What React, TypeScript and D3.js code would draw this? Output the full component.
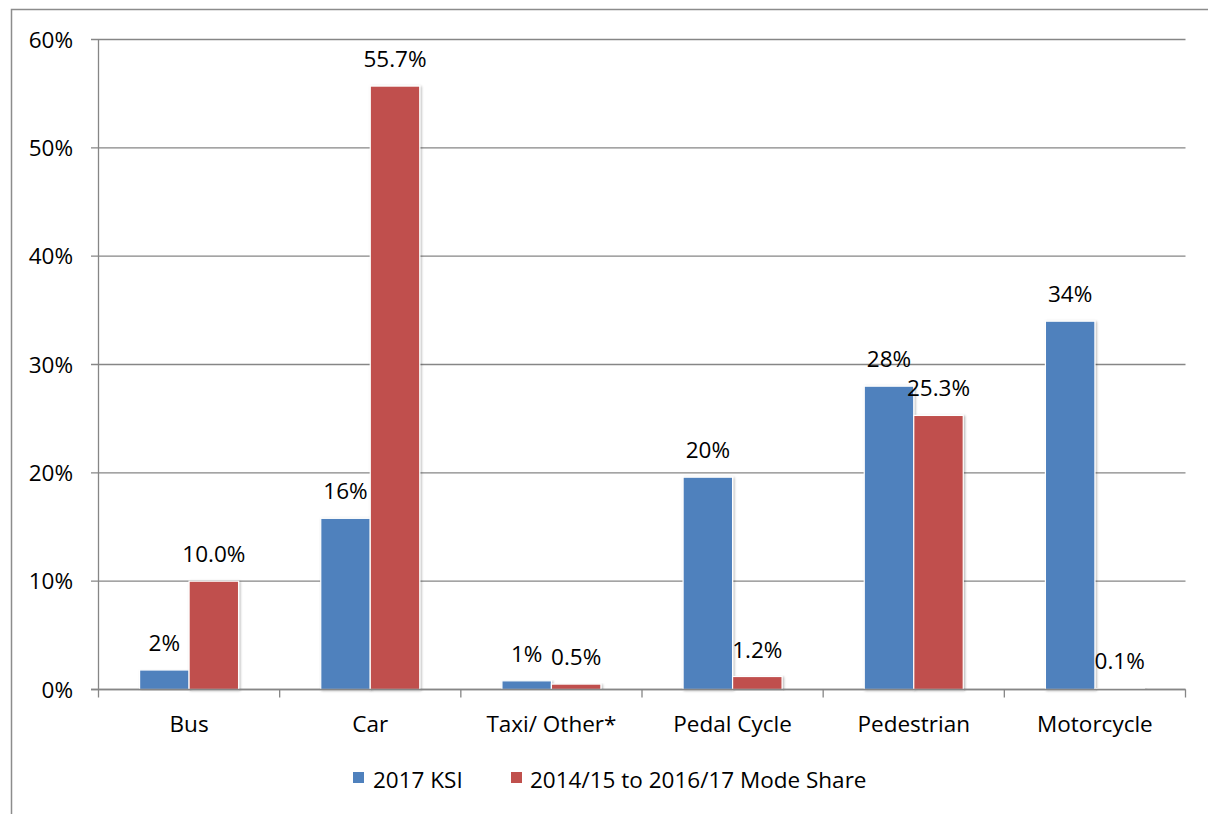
import React from "react";
import * as d3 from "d3";

const categories = ["Bus", "Car", "Taxi/ Other*", "Pedal Cycle", "Pedestrian", "Motorcycle"];
const seriesNames = ["2017 KSI", "2014/15 to 2016/17 Mode Share"];
const ksi = [1.8, 15.8, 0.8, 19.6, 28.0, 34.0];
const modeShare = [10.0, 55.7, 0.5, 1.2, 25.3, 0.1];
const yTicks = [0, 10, 20, 30, 40, 50, 60];
const colors = ["#4F81BD", "#C0504D"];
const labelFormats = [".0f", ".1f"];

const W = 1208;
const H = 814;
const FONT = "'Open Sans', Lato, sans-serif";
const FS = 22.5;

export default function App() {
  const left = 98.5;
  const right = 1185.5;
  const top = 39.5;
  const bottom = 689.5;

  const x = d3.scaleBand<string>().domain(categories).range([left, right]).paddingInner(0).paddingOuter(0);
  const xs = d3.scaleBand<number>().domain([0, 1]).range([0, x.bandwidth()]).paddingInner(0).paddingOuter(0.83);
  const y = d3.scaleLinear().domain([0, 60]).range([bottom, top]);
  const series = [ksi, modeShare];

  const boundaries = categories.map((c) => x(c) as number).concat([right]);

  return (
    <svg width={W} height={H} style={{ position: "absolute", left: 0, top: 0, background: "#fff" }}>
      <defs>
        <filter id="shadow" x="-20%" y="-5%" width="140%" height="110%">
          <feDropShadow dx="1.2" dy="0.8" stdDeviation="1.2" floodColor="#000" floodOpacity="0.3" />
        </filter>
      </defs>
      <rect x={0} y={0} width={W} height={H} fill="#fff" />
      <rect x={11.5} y={9.5} width={W + 20} height={H + 20} fill="none" stroke="#8c8c8c" strokeWidth={1.5} />

      {yTicks.map((t) => (
        <g key={t}>
          <line x1={91} x2={right} y1={y(t)} y2={y(t)} stroke="#868686" strokeWidth={1.3} />
          <text x={73} y={y(t) + 8} textAnchor="end" fontFamily={FONT} fontSize={FS} fill="#000">
            {t}%
          </text>
        </g>
      ))}
      <line x1={left} x2={left} y1={top} y2={bottom} stroke="#868686" strokeWidth={1.3} />

      {categories.map((c, i) => (
        <g key={c}>
          {series.map((s, j) => {
            const bx = (x(c) as number) + (xs(j) as number);
            const v = s[i];
            return (
              <rect
                key={j}
                x={bx}
                y={y(v)}
                width={xs.bandwidth()}
                height={bottom - y(v)}
                fill={colors[j]}
                stroke="#fff"
                strokeWidth={1.2}
                filter="url(#shadow)"
              />
            );
          })}
        </g>
      ))}

      <line x1={91} x2={right} y1={bottom} y2={bottom} stroke="#868686" strokeWidth={1.3} />
      {boundaries.map((b, i) => (
        <line key={i} x1={b} x2={b} y1={bottom} y2={bottom + 8} stroke="#868686" strokeWidth={1.3} />
      ))}

      {categories.map((c, i) => (
        <g key={c + "l"}>
          {series.map((s, j) => {
            const cx = (x(c) as number) + (xs(j) as number) + xs.bandwidth() / 2;
            return (
              <text key={j} x={cx} y={y(s[i]) - 19} textAnchor="middle" fontFamily={FONT} fontSize={FS} fill="#000">
                {d3.format(labelFormats[j])(s[i])}%
              </text>
            );
          })}
        </g>
      ))}

      {categories.map((c) => (
        <text
          key={c + "c"}
          x={(x(c) as number) + x.bandwidth() / 2}
          y={732}
          textAnchor="middle"
          fontFamily={FONT}
          fontSize={FS}
          fill="#000"
        >
          {c}
        </text>
      ))}

      <g>
        <rect x={353} y={772} width={11} height={11} fill={colors[0]} />
        <text x={373} y={788} fontFamily={FONT} fontSize={FS} fill="#000">
          {seriesNames[0]}
        </text>
        <rect x={511} y={772} width={11} height={11} fill={colors[1]} />
        <text x={530} y={788} fontFamily={FONT} fontSize={FS} fill="#000">
          {seriesNames[1]}
        </text>
      </g>
    </svg>
  );
}
